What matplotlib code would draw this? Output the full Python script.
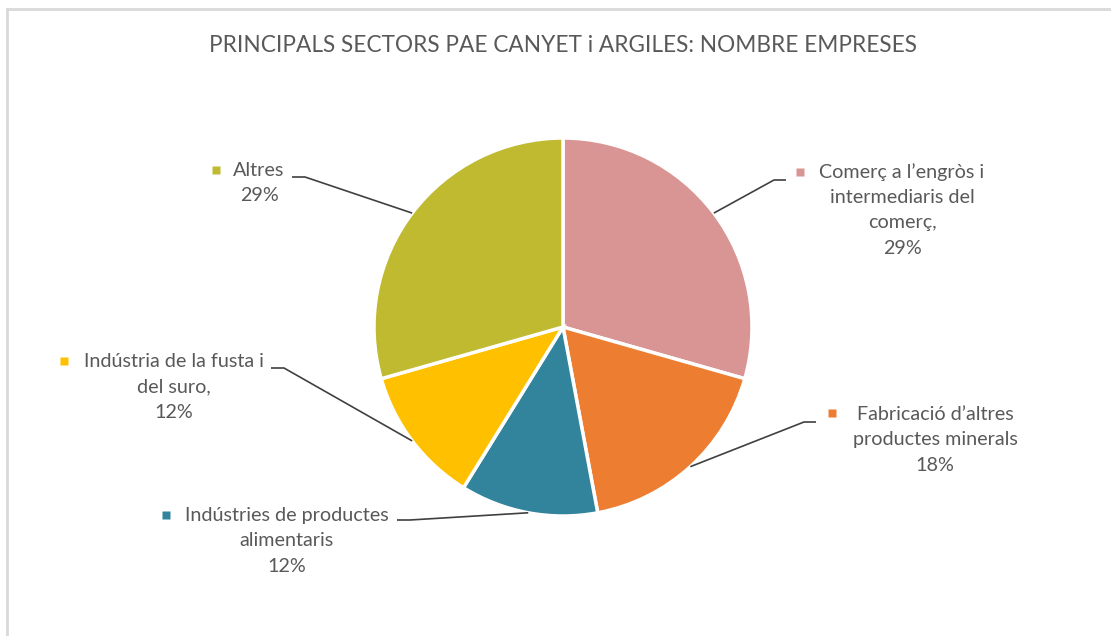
import matplotlib
matplotlib.use("Agg")
import matplotlib.pyplot as plt
import numpy as np

# dades
sectors = ["Comerç a l’engròs i\nintermediaris del\ncomerç,",
           "Fabricació d’altres\nproductes minerals",
           "Indústries de productes\nalimentaris",
           "Indústria de la fusta i\ndel suro,",
           "Altres"]
empreses = [5, 3, 2, 2, 5]
colors = ["#D99594", "#ED7D31", "#31849B", "#FFC000", "#BFBA30"]

# posicions de les etiquetes (px): centre del text, marcador, colze de la línia
label_pos = [(902, 210), (935, 440), (287, 541), (174, 387), (259, 183)]
marker_pos = [(800, 172), (832, 413), (166, 515), (64, 361), (216, 170)]
elbow = [[(774, 180), (786, 180)],
         [(804, 422), (816, 422)],
         [(410, 520), (397, 520)],
         [(284, 368), (271, 368)],
         [(305, 177), (292, 177)]]

W, H = 1111, 636
fig = plt.figure(figsize=(W / 100, H / 100), dpi=100)
ax = fig.add_axes([0, 0, 1, 1])
txt = "#595959"

cx, cy, r = 563, 327, 189
total = sum(empreses)
# eix y invertit: sentit antihorari a les dades = horari a la imatge
wedges, _ = ax.pie(empreses, colors=colors, startangle=-90, counterclock=True,
                   radius=r, center=(cx, cy), frame=True,
                   wedgeprops=dict(edgecolor="white", linewidth=2.5))
ax.set_xlim(0, W)
ax.set_ylim(H, 0)
ax.axis("off")

for i, w in enumerate(wedges):
    mid = np.deg2rad((w.theta1 + w.theta2) / 2)
    x0, y0 = cx + r * np.cos(mid), cy + r * np.sin(mid)
    xs = [x0] + [p[0] for p in elbow[i]]
    ys = [y0] + [p[1] for p in elbow[i]]
    ax.plot(xs, ys, color="#404040", lw=1.2, solid_capstyle="butt")
    pct = round(empreses[i] / total * 100)
    lab = sectors[i] + "\n" + f"{pct}%"
    ax.text(label_pos[i][0], label_pos[i][1], lab, ha="center", va="center",
            fontsize=14.2, family="Lato", color=txt, linespacing=1.58)
    ax.plot(*marker_pos[i], marker="s", ms=5.5, color=colors[i], mec="none")

ax.text(563, 46, "PRINCIPALS SECTORS PAE CANYET i ARGILES: NOMBRE EMPRESES",
        ha="center", va="center", fontsize=16.3, family="Lato", color=txt)

# marc
ax.plot([7, W], [9, 9], color="#D9D9D9", lw=2)
ax.plot([7, 7], [9, H], color="#D9D9D9", lw=2)

fig.savefig("out.png", dpi=100, facecolor="white")
